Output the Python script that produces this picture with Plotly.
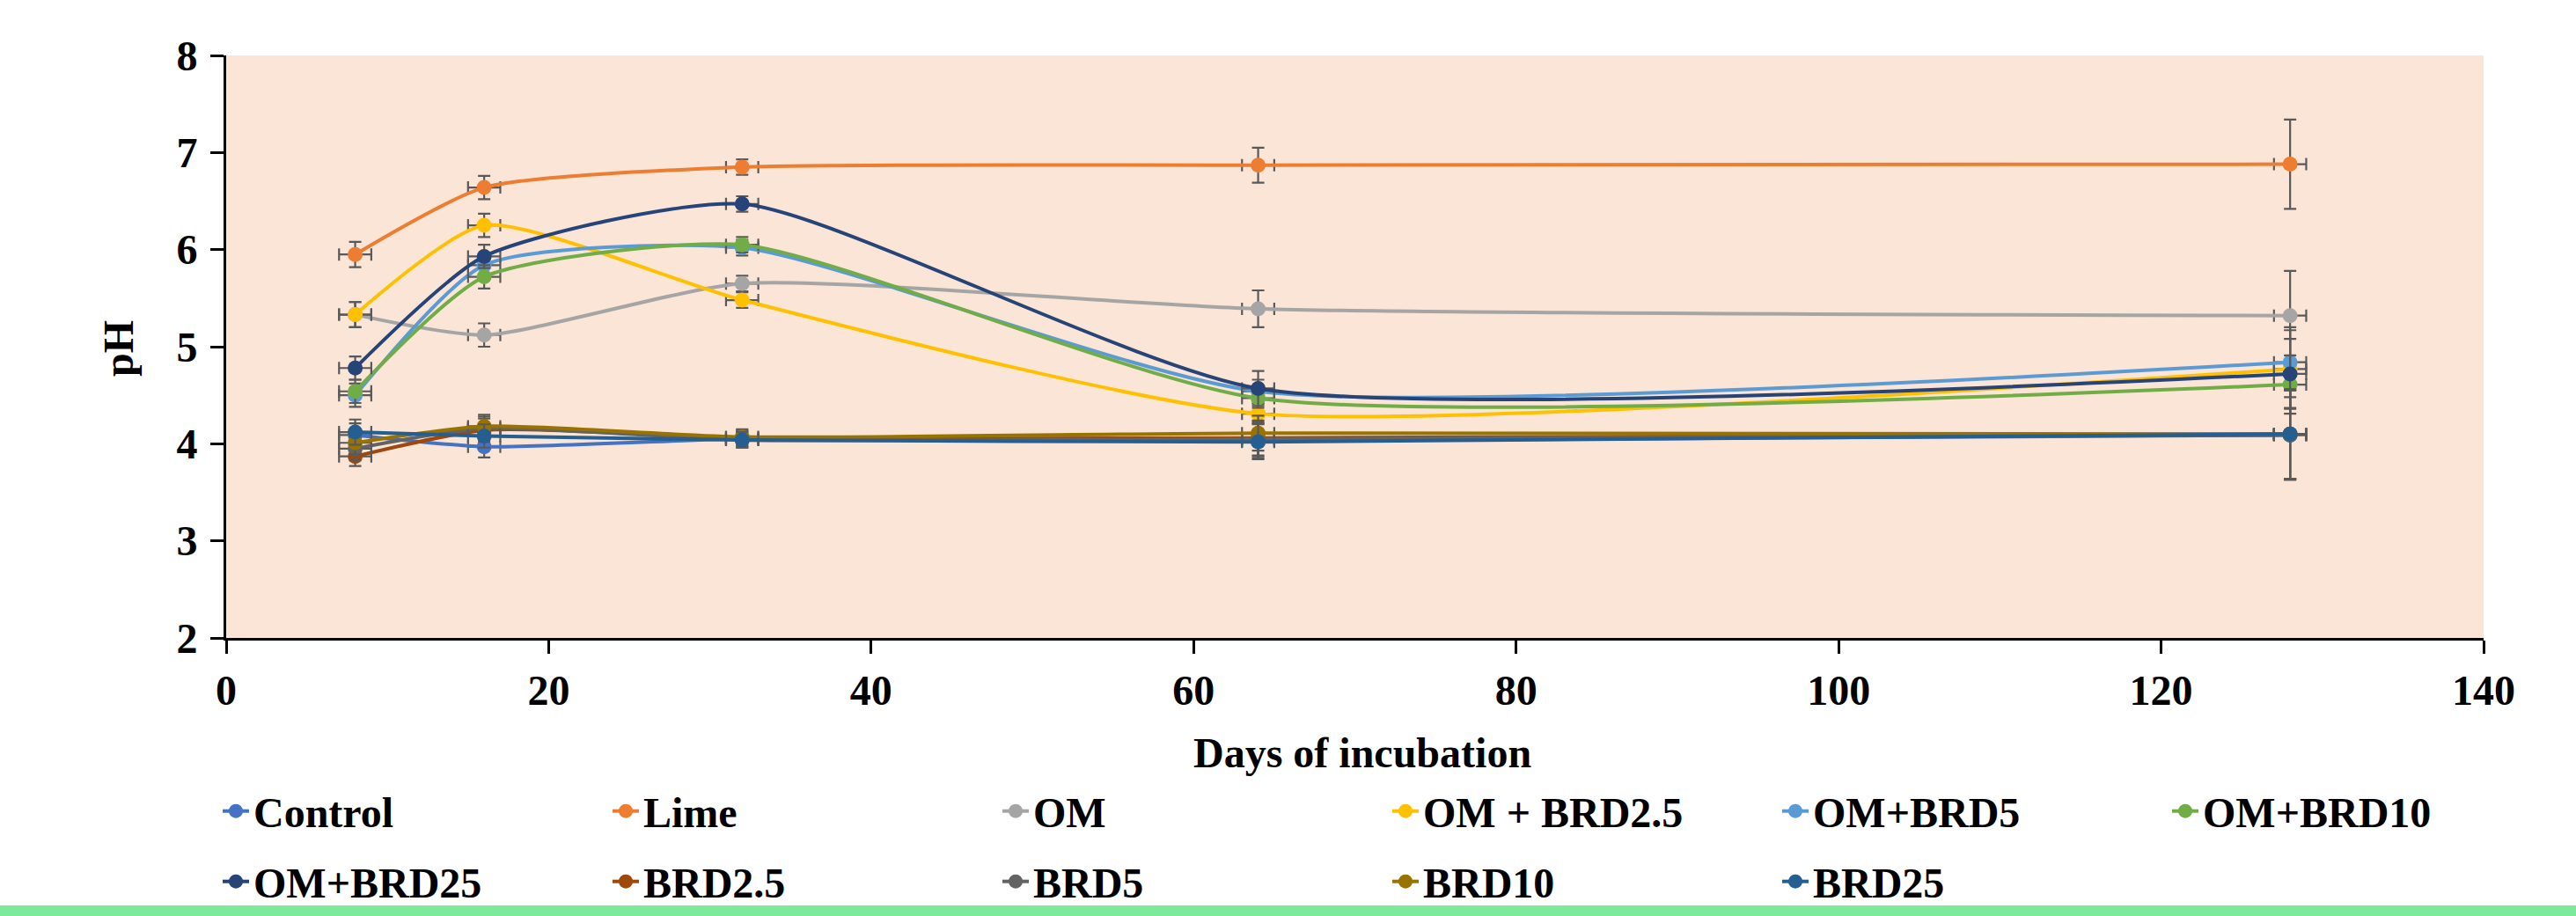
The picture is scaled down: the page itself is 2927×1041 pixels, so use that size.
import plotly.graph_objects as go

days = [8, 16, 32, 64, 128]
x_err = [1, 1, 1, 1, 1]

series_names = ["Control", "Lime", "OM", "OM + BRD2.5", "OM+BRD5", "OM+BRD10",
                "OM+BRD25", "BRD2.5", "BRD5", "BRD10", "BRD25"]

control = [4.09, 3.97, 4.05, 4.03, 4.09]
lime = [5.95, 6.64, 6.85, 6.87, 6.88]
om = [5.33, 5.12, 5.65, 5.39, 5.32]
om_brd2_5 = [5.33, 6.25, 5.48, 4.31, 4.77]
om_brd5 = [4.50, 5.84, 6.02, 4.54, 4.84]
om_brd10 = [4.54, 5.72, 6.05, 4.47, 4.61]
om_brd25 = [4.78, 5.93, 6.47, 4.57, 4.72]
brd2_5 = [3.87, 4.14, 4.06, 4.06, 4.10]
brd5 = [3.95, 4.16, 4.04, 4.05, 4.09]
brd10 = [4.01, 4.18, 4.07, 4.11, 4.10]
brd25 = [4.12, 4.08, 4.04, 4.02, 4.10]

control_err = [0.12, 0.11, 0.08, 0.18, 0.46]
lime_err = [0.13, 0.12, 0.08, 0.18, 0.46]
om_err = [0.13, 0.12, 0.08, 0.19, 0.46]
om_brd2_5_err = [0.13, 0.12, 0.08, 0.10, 0.40]
om_brd5_err = [0.12, 0.12, 0.08, 0.12, 0.36]
om_brd10_err = [0.12, 0.12, 0.08, 0.10, 0.30]
om_brd25_err = [0.12, 0.12, 0.08, 0.18, 0.36]
brd2_5_err = [0.10, 0.12, 0.08, 0.18, 0.46]
brd5_err = [0.12, 0.12, 0.08, 0.18, 0.46]
brd10_err = [0.12, 0.12, 0.08, 0.18, 0.46]
brd25_err = [0.13, 0.12, 0.08, 0.18, 0.46]

values = [control, lime, om, om_brd2_5, om_brd5, om_brd10, om_brd25, brd2_5, brd5, brd10, brd25]
errors = [control_err, lime_err, om_err, om_brd2_5_err, om_brd5_err, om_brd10_err,
          om_brd25_err, brd2_5_err, brd5_err, brd10_err, brd25_err]
colors = ["#4472C4", "#ED7D31", "#A5A5A5", "#FFC000", "#5B9BD5", "#70AD47",
          "#264478", "#9E480E", "#636363", "#997300", "#255E91"]
legend_rows = ["legend"] * 6 + ["legend2"] * 5

y_ticks = [2, 3, 4, 5, 6, 7, 8]
x_ticks = [0, 20, 40, 60, 80, 100, 120, 140]
x_title = "Days of incubation"
y_title = "pH"

FONT = "Liberation Serif"
BOLD = dict(family=FONT, size=48, color="black", weight="bold")

# plot area in pixels
L, R, T, B = 257, 2822, 63, 725
W, H = R - L, B - T

fig = go.Figure()
for name, vals, errs, col, lg in zip(series_names, values, errors, colors, legend_rows):
    fig.add_trace(go.Scatter(
        x=days, y=vals, name=name, mode="lines+markers",
        line=dict(color=col, width=4, shape="spline", smoothing=0.6),
        marker=dict(color=col, size=17),
        error_y=dict(type="data", array=errs, visible=True, color="#595959", thickness=2.2, width=7),
        error_x=dict(type="data", array=x_err, visible=True, color="#595959", thickness=2.2, width=7),
        legend=lg,
    ))

legend_common = dict(
    orientation="h", xref="paper", yref="paper", xanchor="left", yanchor="middle",
    entrywidthmode="pixels", entrywidth=398, bgcolor="rgba(0,0,0,0)",
    font=BOLD, itemsizing="trace", traceorder="normal", borderwidth=0,
)

fig.update_layout(
    width=2927, height=1041,
    margin=dict(l=L, r=2927 - R, t=T, b=1041 - B, autoexpand=False),
    paper_bgcolor="white", plot_bgcolor="#FBE5D6",
    font=BOLD,
    showlegend=True,
    legend=dict(legend_common, x=(248 - L) / W, y=(B - 922) / H),
    legend2=dict(legend_common, x=(248 - L) / W, y=(B - 1002) / H),
    xaxis=dict(
        range=[0, 140], tickvals=x_ticks, ticktext=[str(t) for t in x_ticks],
        showgrid=False, zeroline=False, showline=True, linecolor="black", linewidth=3,
        ticks="outside", ticklen=15, tickwidth=3, tickcolor="black",
        tickfont=BOLD, automargin=False,
    ),
    yaxis=dict(
        range=[2, 8], tickvals=y_ticks, ticktext=[str(t) for t in y_ticks],
        showgrid=False, zeroline=False, showline=True, linecolor="black", linewidth=3,
        ticks="outside", ticklen=15, tickwidth=3, tickcolor="black",
        tickfont=BOLD, ticklabelstandoff=5, automargin=False,
    ),
    annotations=[
        dict(text=x_title, xref="paper", yref="paper", x=(1548 - L) / W, y=(B - 855) / H,
             xanchor="center", yanchor="middle", showarrow=False, font=BOLD),
        dict(text=y_title, xref="paper", yref="paper", x=(134 - L) / W, y=(B - 396) / H,
             xanchor="center", yanchor="middle", showarrow=False, textangle=-90, font=BOLD),
    ],
    shapes=[dict(type="rect", xref="paper", yref="paper",
                 x0=-0.2, x1=1.2, y0=(B - 1029) / H, y1=(B - 1060) / H,
                 fillcolor="#7DEA9A", line=dict(width=0), layer="above")],
)

fig.write_html("out.html")
